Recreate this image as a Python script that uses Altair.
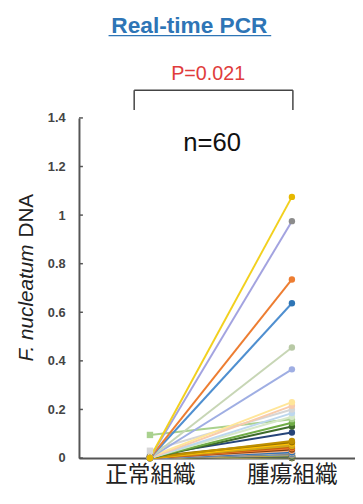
import altair as alt
import pandas as pd

# ---- data ----
groups = ["正常組織", "腫瘍組織"]
y_ticks = [0, 0.2, 0.4, 0.6, 0.8, 1.0, 1.2, 1.4]

tumor = [1.075, 0.975, 0.735, 0.637, 0.455, 0.365, 0.23, 0.215, 0.2, 0.185,
         0.17, 0.16, 0.145, 0.13, 0.105, 0.07, 0.065, 0.06, 0.055, 0.05,
         0.045, 0.04, 0.035, 0.03, 0.03, 0.025, 0.025, 0.02, 0.02, 0.02,
         0.015, 0.015, 0.015, 0.012, 0.012, 0.01, 0.01, 0.01, 0.008, 0.008,
         0.007, 0.006, 0.006, 0.005, 0.005, 0.004, 0.004, 0.003, 0.003, 0.003,
         0.002, 0.002, 0.002, 0.001, 0.001, 0.001, 0.001, 0.0, 0.0, 0.0]

normal = [0.0, 0.0, 0.0, 0.0, 0.0, 0.0, 0.005, 0.0, 0.03, 0.0,
          0.0, 0.095, 0.0, 0.0, 0.01, 0.0, 0.005, 0.0, 0.0, 0.0,
          0.0, 0.0, 0.0, 0.0, 0.0, 0.0, 0.0, 0.0, 0.0, 0.0,
          0.0, 0.0, 0.0, 0.0, 0.0, 0.0, 0.0, 0.0, 0.0, 0.0,
          0.0, 0.0, 0.0, 0.0, 0.0, 0.0, 0.0, 0.0, 0.0, 0.0,
          0.0, 0.0, 0.0, 0.0, 0.0, 0.0, 0.0, 0.0, 0.0, 0.0]

# ---- styles ----
head_colors = ["#F2D01E", "#A3A3E0", "#ED7D31", "#4F8FD0", "#C7D6B5", "#9FAEE3",
               "#FFE699", "#F8CBAD", "#D6D6D6", "#BDD7EE", "#D6E8C8", "#A9D18E",
               "#70AD47", "#3E6B2A", "#264478", "#BF9000", "#997300", "#FFC000",
               "#C9A227", "#D4AC0D", "#C55A11", "#ED7D31", "#843C0C", "#F4B183",
               "#5B9BD5", "#2E75B6", "#4472C4", "#A5A5A5", "#636363", "#7F6000"]
cycle = ["#5B9BD5", "#ED7D31", "#A5A5A5", "#FFC000", "#4472C4", "#70AD47",
         "#255E91", "#9E480E", "#636363", "#997300", "#264478", "#43682B"]
line_colors = head_colors + [cycle[k % len(cycle)] for k in range(60 - len(head_colors))]
marker_colors = list(line_colors)
marker_colors[0] = "#E6B800"
marker_colors[1] = "#8C8C8C"
marker_colors[3] = "#2E75B6"
marker_colors[4] = "#B8C9A5"
normal_shapes = ["square" if k in (8, 11) else "circle" for k in range(60)]

rows = []
for i in reversed(range(60)):
    sid = f"{59 - i:02d}"
    rows.append(dict(sid=sid, g=0, v=normal[i], lc=line_colors[i], mc=marker_colors[i], sh=normal_shapes[i]))
    rows.append(dict(sid=sid, g=1, v=tumor[i], lc=line_colors[i], mc=marker_colors[i], sh="circle"))
df = pd.DataFrame(rows)

W, H = 280, 345
xscale = alt.Scale(domain=[-0.5, -0.5 + W / 144.0], nice=False, zero=False)
yscale = alt.Scale(domain=[0, 1.4], nice=False)

label_expr_x = f"datum.value == 0 ? '{groups[0]}' : '{groups[1]}'"
xaxis = alt.Axis(values=[0, 1], labelExpr=label_expr_x, ticks=False, grid=False,
                 domainColor="#555555", domainWidth=2, labelFont="Noto Sans CJK JP",
                 labelFontSize=23, labelColor="#222222", labelPadding=6,
                 labelFlush=False, title=None)
yaxis = alt.Axis(values=y_ticks,
                 labelExpr="datum.value == 0 ? '0' : datum.value == 1 ? '1' : format(datum.value, '.1f')",
                 ticks=False, grid=False, domainColor="#555555", domainWidth=2,
                 labelFont="Liberation Sans", labelFontWeight="bold", labelFontSize=13,
                 labelColor="#444444", labelPadding=14, title=None)

base = alt.Chart(df)
lines = base.mark_line(strokeWidth=2).encode(
    x=alt.X("g:Q", scale=xscale, axis=xaxis),
    y=alt.Y("v:Q", scale=yscale, axis=yaxis),
    color=alt.Color("lc:N", scale=None),
    detail="sid:N",
)
points = base.mark_point(filled=True, opacity=1, size=42).encode(
    x=alt.X("g:Q", scale=xscale),
    y=alt.Y("v:Q", scale=yscale),
    color=alt.Color("mc:N", scale=None),
    shape=alt.Shape("sh:N", scale=None),
)

tick_df = pd.DataFrame({"t": y_ticks})
yticks = alt.Chart(tick_df).mark_rule(color="#555555", strokeWidth=1.5).encode(
    y=alt.Y("t:Q", scale=yscale), x=alt.value(0), x2=alt.value(4)
)

one = pd.DataFrame({"a": [0]})


def txt(s, x, y, **kw):
    return alt.Chart(one).mark_text(text=s, **kw).encode(x=alt.value(x), y=alt.value(y))


def rule(x, x2, y, y2, **kw):
    return alt.Chart(one).mark_rule(**kw).encode(
        x=alt.value(x), x2=alt.value(x2), y=alt.value(y), y2=alt.value(y2))


title = txt("Real-time PCR", 112, -86, font="Liberation Sans", fontWeight="bold",
            fontSize=23, color="#2E75B6", align="center", baseline="alphabetic")
underline = rule(30, 195, -83.5, -83.5, color="#2E75B6", strokeWidth=1.5)
ptxt = txt("P=0.021", 131, -38, font="Liberation Sans", fontSize=20, color="#E03C3C",
           align="center", baseline="alphabetic")
b_top = rule(56, 217, -28, -28, color="#444444", strokeWidth=1.5)
b_left = rule(56, 56, -28, -8, color="#444444", strokeWidth=1.5)
b_right = rule(217, 217, -28, -8, color="#444444", strokeWidth=1.5)
ntxt = txt("n=60", 135, 34, font="Liberation Sans", fontSize=26, color="#111111",
           align="center", baseline="alphabetic")
ytitle1 = txt("F. nucleatum", -47, 247, font="Liberation Sans", fontStyle="italic",
              fontSize=21, color="#222222", angle=270, align="left", baseline="alphabetic")
ytitle2 = txt("DNA", -47, 77, font="Liberation Sans", fontSize=21, color="#222222",
              angle=270, align="right", baseline="alphabetic")

chart = alt.layer(
    lines, points, yticks, title, underline, ptxt, b_top, b_left, b_right, ntxt, ytitle1, ytitle2
).properties(
    width=W, height=H,
    autosize=alt.AutoSizeParams(type="none"),
    padding={"left": 72, "top": 108, "right": 0, "bottom": 35},
).configure_view(stroke=None)

chart.save("out.html", embed_options={"renderer": "svg", "actions": False})
